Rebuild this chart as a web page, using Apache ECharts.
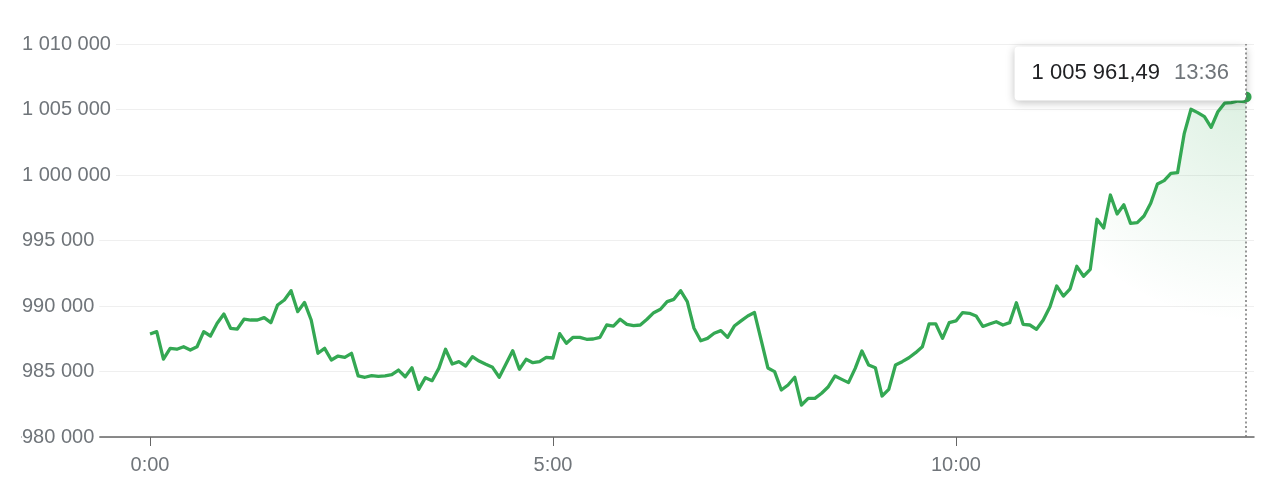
<!DOCTYPE html>
<html><head><meta charset="utf-8">
<script src="https://cdn.jsdelivr.net/npm/echarts@6/dist/echarts.min.js"></script>
<style>html,body{margin:0;padding:0;background:#fff}#c{width:1280px;height:490px}</style>
</head><body><div id="c"></div>
<script>
// ---- data ----
const stepMinutes = 5; // sampling step of the intraday series (minutes from 0:00)
const values = [
  987860, 988040, 985950, 986770, 986700, 986890, 986640, 986890, 988040, 987710,
  988680, 989390, 988300, 988240, 988990, 988930, 988930, 989110, 988730, 990080,
  990460, 991170, 989570, 990270, 988930, 986390, 986770, 985880, 986180, 986080,
  986390, 984660, 984560, 984680, 984630, 984660, 984760, 985110, 984600, 985290,
  983640, 984530, 984300, 985240, 986700, 985570, 985750, 985420, 986130, 985800,
  985550, 985320, 984560, 985570, 986590, 985170, 985930, 985670, 985750, 986080,
  986030, 987890, 987150, 987610, 987610, 987460, 987480, 987610, 988550, 988470,
  988990, 988600, 988500, 988550, 988990, 989490, 989750, 990330, 990510, 991170,
  990330, 988300, 987350, 987530, 987920, 988120, 987610, 988470, 988860, 989240,
  989500, 987400, 985270, 984990, 983590, 983970, 984560, 982440, 982950, 982950,
  983340, 983840, 984660, 984400, 984150, 985240, 986570, 985500, 985290, 983130,
  983640, 985500, 985750, 986050, 986440, 986890, 988630, 988630, 987530, 988730,
  988860, 989500, 989440, 989240, 988440, 988630, 988800, 988550, 988730, 990250,
  988600, 988550, 988220, 988930, 989950, 991530, 990760, 991310, 993030, 992270,
  992800, 996620, 995960, 998470, 997020, 997730, 996310, 996360, 996870, 997840,
  999310, 999570, 1000130, 1000180, 1003180, 1005020, 1004760, 1004450, 1003640, 1004830,
  1005480, 1005520, 1005650, 1005600
];
const lastMinute = 816;          // 13:36
const lastValue = 1005961.49;
const yMin = 980000, yMax = 1010000, yStep = 5000;
const xTickMinutes = [0, 300, 600];   // 0:00, 5:00, 10:00
const xMin = -95.3, xMax = 821.9;

// ---- helpers ----
function groupThousands(s){ return s.replace(/\B(?=(\d{3})+(?!\d))/g, ' '); }
function fmtNum(v, dec){
  const parts = v.toFixed(dec).split('.');
  return groupThousands(parts[0]) + (parts[1] ? ',' + parts[1] : '');
}
function fmtTime(m){ return Math.floor(m/60) + ':' + String(Math.round(m%60)).padStart(2,'0'); }

const GREEN = '#34a853';
const FONT = '"Liberation Sans", Arial, sans-serif';
const GREY = '#70757a';

const seriesData = values.map((v, i) => [i * stepMinutes, v]);
seriesData.push({
  value: [lastMinute, lastValue],
  symbol: 'circle',
  symbolSize: 11,
  itemStyle: { color: GREEN },
  label: {
    show: true,
    position: [5.5, 9],
    align: 'right',
    verticalAlign: 'bottom',
    formatter: () => '{v|' + fmtNum(lastValue, 2) + '}{t|' + fmtTime(lastMinute) + '}',
    backgroundColor: '#fff',
    borderRadius: 4,
    padding: [14, 17, 14, 17],
    shadowColor: 'rgba(0,0,0,0.25)',
    shadowBlur: 8,
    shadowOffsetY: 2,
    rich: {
      v: { fontSize: 22, color: '#202124', fontFamily: FONT, lineHeight: 26 },
      t: { fontSize: 22, color: GREY, fontFamily: FONT, lineHeight: 26, padding: [0, 0, 0, 14] }
    }
  }
});

const chart = echarts.init(document.getElementById('c'), null, { renderer: 'canvas' });
chart.setOption({
  animation: false,
  backgroundColor: '#fff',
  grid: { left: 22, right: 26, top: 44, bottom: 53 },
  xAxis: {
    type: 'value', min: xMin, max: xMax,
    axisLine: { show: true, lineStyle: { color: '#666', width: 1.5 } },
    axisTick: { show: true, customValues: xTickMinutes, length: 9, lineStyle: { color: '#666', width: 1 } },
    axisLabel: { customValues: xTickMinutes, formatter: v => fmtTime(v), color: GREY, fontSize: 20, fontFamily: FONT, margin: 18 },
    splitLine: { show: false }
  },
  yAxis: [
    {
      type: 'value', min: yMin, max: yMax, interval: yStep, position: 'left', z: 5,
      axisLine: { show: false }, axisTick: { show: false }, splitLine: { show: false },
      axisLabel: {
        inside: true, margin: 0, color: GREY, fontSize: 20, fontFamily: FONT,
        backgroundColor: '#fff', padding: [3, 5, 3, 0],
        formatter: v => groupThousands(String(v))
      }
    },
    {
      type: 'value', min: yMin, max: yMax, interval: yStep, position: 'left', z: 0,
      axisLine: { show: false }, axisTick: { show: false }, axisLabel: { show: false },
      splitLine: { show: true, lineStyle: { color: '#efefef', width: 1 } }
    }
  ],
  series: [{
    type: 'line',
    yAxisIndex: 0,
    data: seriesData,
    symbol: 'none',
    showSymbol: true,
    lineStyle: { color: GREEN, width: 3.3, join: 'round' },
    itemStyle: { color: GREEN },
    areaStyle: {
      origin: 'start',
      color: new echarts.graphic.RadialGradient(1, 0, 0.66, [
        { offset: 0, color: 'rgba(52,168,83,0.24)' },
        { offset: 1, color: 'rgba(52,168,83,0)' }
      ])
    },
    markLine: {
      silent: true, symbol: ['none', 'none'], label: { show: false },
      lineStyle: { color: '#777', type: [2, 2.5], width: 1.5 },
      emphasis: { disabled: true },
      data: [{ xAxis: lastMinute }]
    }
  }]
});
</script>
</body></html>
